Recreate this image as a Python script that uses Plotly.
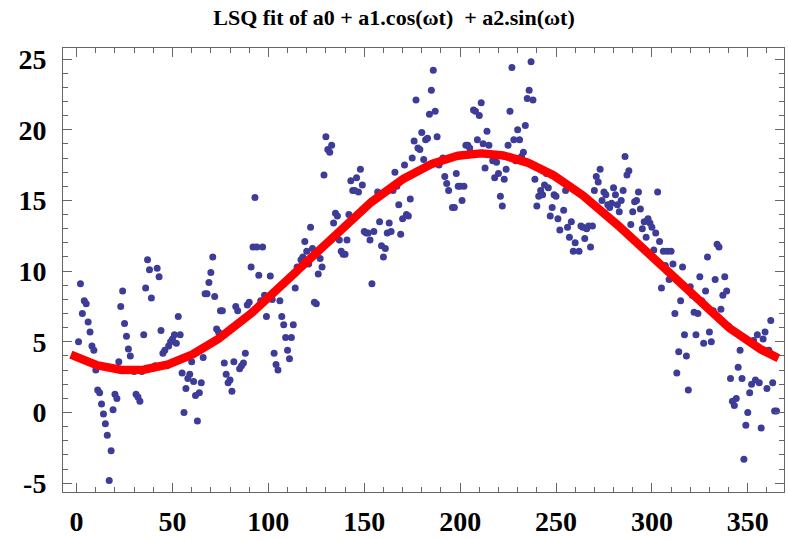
import numpy as np
import plotly.graph_objects as go

days = [1,2,3,4,5,6,7,8,9,10,11,12,13,14,15,16,17,18,19,20,21,22,23,24,25,26,27,28,30,31,32,33,34,35,36,37,38,39,40,
        41,42,43,44,45,46,47,48,49,50,51,52,53,54,55,56,57,58,59,60,61,62,63,64,65,66,67,68,69,70,71,72,73,74,75,76,77,78,79,80,
        81,82,83,84,85,86,87,88,89,90,91,92,93,94,95,96,97,98,99,101,102,103,104,105,106,107,108,109,110,111,112,113,114,115,117,118,119,120,
        121,122,123,124,125,126,127,128,129,130,131,132,133,134,135,136,137,138,139,140,141,142,143,144,145,146,147,148,149,150,
        151,152,153,154,155,157,158,159,160,161,162,163,164,165,166,167,168,169,170,171,172,173,174,175,176,177,178,179,180,
        181,182,183,184,185,186,187,188,189,191,192,193,194,196,197,198,199,200,201,202,203,204,205,207,208,209,210,211,212,213,
        214,215,217,218,219,220,221,222,223,224,225,226,227,228,229,230,231,232,233,234,235,236,237,238,239,240,241,242,
        243,244,245,246,247,248,249,250,251,252,254,255,256,257,258,259,260,262,263,264,265,266,267,268,269,270,271,272,273,274,275,276,
        277,278,279,280,281,282,283,284,285,286,287,288,289,290,291,292,293,294,295,296,297,298,299,300,301,302,303,304,305,306,307,
        308,309,310,311,312,313,314,315,316,317,318,319,320,321,322,323,324,325,326,327,328,329,330,331,332,333,334,335,336,337,338,
        339,340,341,342,343,344,345,346,347,348,349,350,351,352,353,354,355,356,357,358,359,360,361,362,363,364,365]

values = [5.0,9.1,7.0,7.9,7.7,6.4,5.7,4.7,4.4,3.0,1.6,1.4,0.6,-0.1,-0.8,-1.6,-4.8,-2.7,0.2,1.3,1.0,3.6,7.5,8.6,6.3,5.4,4.5,4.0,2.9,1.3,1.1,0.8,2.9,5.5,8.8,10.8,10.1,8.1,3.2,
          3.3,10.2,9.6,5.8,4.2,4.4,3.3,4.7,5.0,5.2,5.5,4.9,6.8,5.5,2.8,0.0,1.7,2.4,2.7,3.6,2.2,1.2,-0.6,1.4,2.1,3.9,8.4,8.4,9.2,9.9,11.0,8.2,5.9,5.7,7.2,7.2,3.5,2.7,2.1,2.3,
          1.5,3.6,7.5,7.2,3.1,3.3,3.5,4.2,7.6,7.8,10.3,11.7,15.2,11.7,9.7,7.9,11.7,8.3,6.8,9.65,8.0,4.2,3.4,3.0,7.9,6.8,6.2,5.3,4.4,3.8,5.3,6.2,8.8,10.3,10.8,11.0,12.1,11.4,
          10.5,13.1,11.6,7.8,7.7,9.8,10.9,10.3,16.8,19.5,18.6,18.4,18.9,13.4,14.1,13.9,12.2,11.4,11.2,11.2,12.2,14.0,16.4,15.7,15.7,16.6,15.6,17.2,16.1,12.8,
          12.7,12.7,12.2,9.1,12.8,15.6,13.5,11.8,11.0,11.6,12.7,13.4,12.8,15.7,17.0,16.0,14.7,12.6,13.7,17.5,14.0,13.9,15.1,18.0,19.2,22.1,18.7,18.6,19.8,
          17.9,19.3,19.4,21.1,22.8,24.2,21.3,19.5,17.5,18.0,16.7,16.2,15.7,14.5,14.5,16.9,16.0,16.0,15.0,16.0,18.9,18.9,18.7,21.4,21.3,19.3,21.0,21.9,19.0,17.3,
          19.9,18.9,17.8,16.6,17.7,16.9,15.3,14.6,16.5,17.2,18.9,21.3,24.4,19.3,17.8,20.0,19.3,18.1,18.4,20.3,22.2,22.8,24.8,22.1,16.5,14.6,15.3,15.7,
          15.4,16.1,16.9,15.9,13.9,14.5,15.4,15.3,13.7,12.9,14.3,15.7,13.1,12.4,13.5,11.4,12.0,11.4,13.2,13.1,12.3,13.0,13.2,11.7,13.2,15.7,16.7,16.3,17.2,15.0,15.6,15.4,
          14.7,14.5,14.8,15.9,15.4,14.7,14.2,15.0,15.7,18.1,16.8,17.1,13.3,14.2,14.9,15.0,15.6,14.4,13.0,13.5,12.4,13.7,13.4,13.1,11.5,12.7,15.6,12.1,8.8,11.4,10.4,
          11.4,9.4,11.4,10.5,7.0,2.8,4.3,7.9,10.3,5.5,4.0,1.6,8.9,8.3,7.1,5.5,7.0,9.6,7.9,4.9,8.6,11.0,5.7,5.0,7.2,9.4,11.9,11.7,7.3,8.3,9.6,
          8.6,6.1,2.4,0.8,0.5,1.0,3.2,4.4,2.4,-3.3,-0.9,0.0,1.4,2.0,5.1,2.3,5.5,2.1,-1.1,5.2,5.7,1.7,4.4,6.5,2.1,0.1,0.1]

x_ticks = [0, 50, 100, 150, 200, 250, 300, 350]
y_ticks = [-5, 0, 5, 10, 15, 20, 25]
period = 365.0

# least-squares fit of a0 + a1 cos(wt) + a2 sin(wt)
t = np.array(days, dtype=float)
y = np.array(values, dtype=float)
w = 2 * np.pi / period
A = np.column_stack([np.ones_like(t), np.cos(w * t), np.sin(w * t)])
coef, *_ = np.linalg.lstsq(A, y, rcond=None)
tt = np.linspace(-3, period + 1, 500)
fit = coef[0] + coef[1] * np.cos(w * tt) + coef[2] * np.sin(w * tt)

fig = go.Figure()
fig.add_trace(go.Scatter(x=days, y=values, mode="markers",
                         marker=dict(size=7, color="rgb(61,61,153)", line=dict(width=0)),
                         showlegend=False, hoverinfo="skip"))
fig.add_trace(go.Scatter(x=tt, y=fit, mode="lines",
                         line=dict(color="#ff0000", width=8.5),
                         showlegend=False, hoverinfo="skip"))

tickfont = dict(family="Liberation Serif", size=28, color="black", weight="bold")
fig.update_layout(
    width=788, height=540,
    margin=dict(l=63, r=3, t=48, b=43),
    paper_bgcolor="white", plot_bgcolor="white",
    title=dict(text="LSQ fit of a0 + a1.cos(ωt)\u00a0 + a2.sin(ωt)",
               x=0.5, xref="container", xanchor="center",
               y=1 - 17 / 540, yref="container", yanchor="middle",
               font=dict(family="Liberation Serif", size=22, color="black", weight="bold")),
)
fig.update_xaxes(range=[-7.1, 368.9], tickmode="array", tickvals=x_ticks,
                 ticktext=[str(v) for v in x_ticks],
                 showgrid=False, zeroline=False, showline=True, linecolor="#666", linewidth=1,
                 mirror="ticks", ticks="inside", ticklen=9, tickcolor="#666", tickwidth=1,
                 minor=dict(dtick=10, tick0=0, ticks="inside", ticklen=5, tickcolor="#666", showgrid=False),
                 tickfont=tickfont, ticklabelstandoff=4)
fig.update_yaxes(range=[-5.62, 25.78], tickmode="array", tickvals=y_ticks,
                 ticktext=[("-" + str(-v)) if v < 0 else str(v) for v in y_ticks],
                 showgrid=False, zeroline=False, showline=True, linecolor="#666", linewidth=1,
                 mirror="ticks", ticks="inside", ticklen=9, tickcolor="#666", tickwidth=1,
                 minor=dict(dtick=1, tick0=0, ticks="inside", ticklen=5, tickcolor="#666", showgrid=False),
                 tickfont=tickfont, ticklabelstandoff=10)

fig.write_html("out.html")
